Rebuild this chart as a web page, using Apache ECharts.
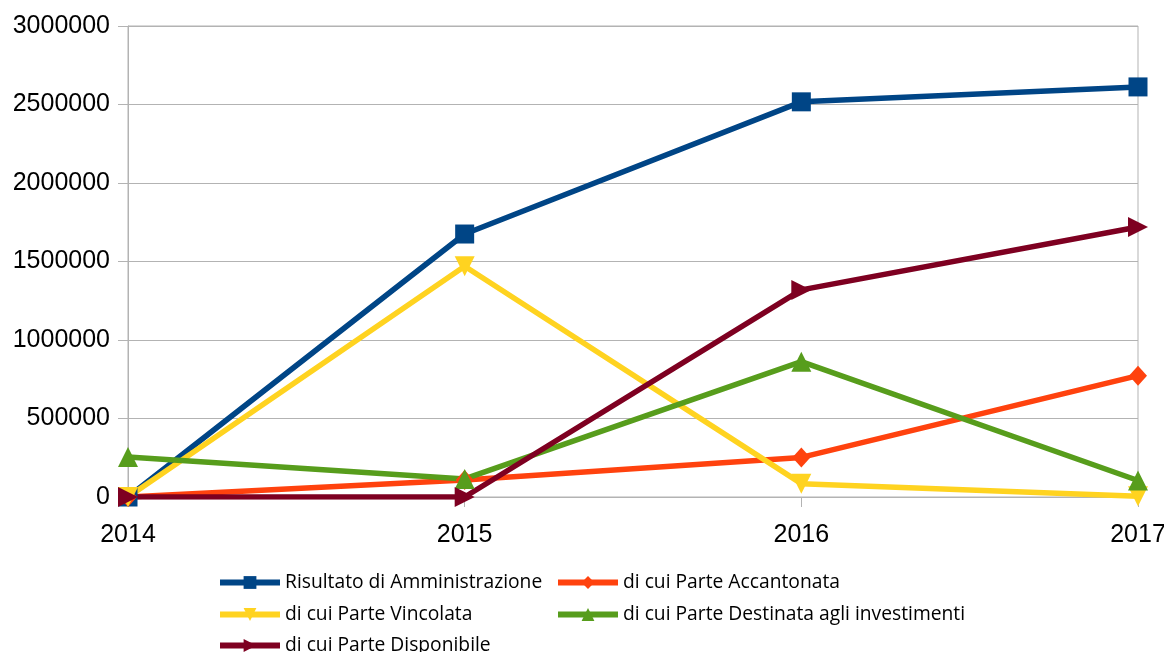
<!DOCTYPE html>
<html>
<head>
    <meta charset="utf-8" />
    <title>Risultato di Amministrazione</title>
    <script src="https://cdn.jsdelivr.net/npm/echarts@6/dist/echarts.min.js"></script>
    <style>
        html, body { margin: 0; padding: 0; background: #ffffff; }
        #chart { width: 1164px; height: 652px; }
    </style>
</head>
<body>
    <div id="chart"></div>
    <script>
        // anni
        var years = ['2014', '2015', '2016', '2017'];
        // serie
        var risultato = [0, 1675000, 2517000, 2612000];
        var accantonata = [0, 108000, 252000, 773000];
        var vincolata = [0, 1470000, 85000, 5000];
        var destinata = [255000, 115000, 862000, 105000];
        var disponibile = [0, 0, 1319000, 1720000];
        // tacche asse y
        var yMin = 0, yMax = 3000000, yStep = 500000;

        var names = [
            'Risultato di Amministrazione',
            'di cui Parte Accantonata',
            'di cui Parte Vincolata',
            'di cui Parte Destinata agli investimenti',
            'di cui Parte Disponibile'
        ];
        var colors = ['#004586', '#ff420e', '#ffd320', '#579d1c', '#7e0021'];

        function makeSeries(i, data, symbol, rotate, size) {
            return {
                name: names[i],
                type: 'line',
                data: data,
                symbol: symbol,
                symbolRotate: rotate,
                symbolSize: size,
                showAllSymbol: true,
                lineStyle: { width: 5.5, color: colors[i] },
                itemStyle: { color: colors[i] },
                animation: false
            };
        }

        // una legenda per voce, posizionata come nell'originale
        var legendPos = [[217, 573], [555, 573], [217, 605], [555, 605], [217, 636]];
        var legends = names.map(function (n, i) {
            return {
                data: [n],
                left: legendPos[i][0], top: legendPos[i][1],
                padding: 0,
                itemWidth: 60, itemHeight: 16,
                lineStyle: { width: 6 },
                textStyle: { fontFamily: 'Open Sans', fontSize: 19.25, color: '#000' }
            };
        });

        var myChart = echarts.init(document.getElementById('chart'));
        myChart.setOption({
            backgroundColor: '#ffffff',
            color: colors,
            grid: {
                left: 128, right: 26, top: 26, bottom: 155,
                outerBoundsMode: 'none',
                show: true, borderColor: '#b3b3b3', borderWidth: 1
            },
            legend: legends,
            xAxis: {
                type: 'category',
                data: years,
                boundaryGap: false,
                axisLine: { lineStyle: { color: '#b3b3b3' } },
                axisTick: { show: true, length: 10, lineStyle: { color: '#b3b3b3' } },
                axisLabel: { color: '#000', fontFamily: 'Liberation Sans', fontSize: 25, margin: 26 },
                splitLine: { show: false }
            },
            yAxis: {
                type: 'value',
                min: yMin, max: yMax, interval: yStep,
                axisLine: { show: true, lineStyle: { color: '#b3b3b3' } },
                axisTick: { show: true, length: 10, lineStyle: { color: '#b3b3b3' } },
                axisLabel: {
                    color: '#000', fontFamily: 'Liberation Sans', fontSize: 25, margin: 18,
                    formatter: function (v) { return String(v); }
                },
                splitLine: { lineStyle: { color: '#b3b3b3' } }
            },
            series: [
                makeSeries(0, risultato, 'rect', 0, 19),
                makeSeries(1, accantonata, 'diamond', 0, [18, 20]),
                makeSeries(2, vincolata, 'triangle', 180, 20),
                makeSeries(3, destinata, 'triangle', 0, 20),
                makeSeries(4, disponibile, 'triangle', -90, 20)
            ]
        });
    </script>
</body>
</html>
